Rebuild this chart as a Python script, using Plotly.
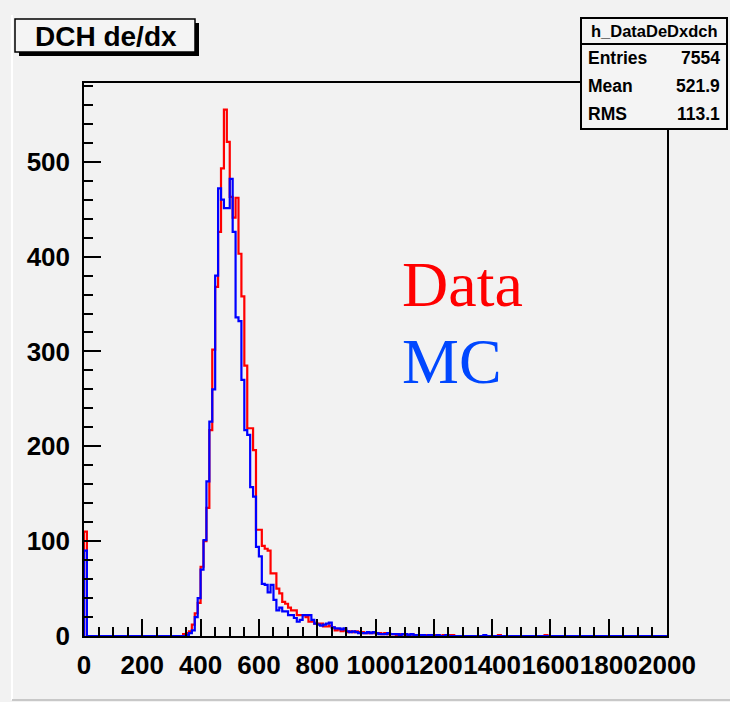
import plotly.graph_objects as go

# ---------------- data ----------------
bin_width = 10
n_bins = 200
x_min, x_max = 0, 2000

data_counts = {
    0: 110,
    34: 2, 35: 3, 36: 5, 37: 12, 38: 24, 39: 35, 40: 73, 41: 100, 42: 135,
    43: 217, 44: 302, 45: 368, 46: 426, 47: 493, 48: 555, 49: 521, 50: 463,
    51: 441, 52: 462, 53: 403, 54: 358, 55: 285, 56: 219, 57: 219, 58: 196,
    59: 112, 60: 112, 61: 95, 62: 92, 63: 90, 64: 66, 65: 66, 66: 50, 67: 45,
    68: 36, 69: 34, 70: 30, 71: 27, 72: 27, 73: 22, 74: 22, 75: 22, 76: 20,
    77: 15, 78: 15, 79: 13, 80: 13, 81: 13, 82: 10, 83: 10, 84: 11, 85: 9,
    86: 6, 87: 7, 88: 5, 89: 6, 90: 4, 91: 5, 92: 4, 93: 5, 94: 4, 95: 4,
    96: 3, 97: 3, 98: 3, 99: 4, 100: 3, 101: 3, 102: 2, 103: 3, 104: 2,
    105: 2, 106: 2, 107: 1, 108: 2, 109: 2, 110: 1, 111: 1, 112: 2, 113: 1,
    114: 1, 115: 1, 117: 1, 118: 1, 120: 1, 121: 1, 123: 1, 125: 1, 126: 1,
    142: 1, 158: 1,
}

mc_counts = {
    0: 90,
    35: 1, 36: 3, 37: 6, 38: 20, 39: 40, 40: 70, 41: 101, 42: 163, 43: 226,
    44: 260, 45: 380, 46: 472, 47: 460, 48: 451, 49: 451, 50: 482, 51: 426,
    52: 336, 53: 332, 54: 270, 55: 217, 56: 212, 57: 157, 58: 147, 59: 94,
    60: 84, 61: 55, 62: 54, 63: 46, 64: 54, 65: 38, 66: 27, 67: 30, 68: 26,
    69: 26, 70: 22, 71: 22, 72: 19, 73: 15, 74: 17, 75: 22, 76: 22, 77: 22,
    78: 17, 79: 13, 80: 12, 81: 11, 82: 12, 83: 13, 84: 14, 85: 9, 86: 8,
    87: 8, 88: 7, 89: 8, 90: 5, 91: 4, 92: 5, 93: 4, 94: 3, 95: 3, 96: 3,
    97: 4, 98: 3, 99: 4, 100: 3, 101: 2, 102: 2, 103: 2, 104: 3, 105: 2,
    106: 2, 107: 2, 108: 1, 109: 2, 110: 2, 111: 1, 112: 2, 113: 1, 114: 1,
    115: 1, 116: 1, 118: 1, 119: 1, 121: 1, 124: 1, 137: 1,
}

hist_name = "h_DataDeDxdch"
stat_labels = ["Entries", "Mean", "RMS"]
stat_values = ["7554", "521.9", "113.1"]
title_text = "DCH de/dx"

edges = [x_min + i * bin_width for i in range(n_bins + 1)]
data_vals = [data_counts.get(i, 0) for i in range(n_bins)]
mc_vals = [mc_counts.get(i, 0) for i in range(n_bins)]


def step_xy(vals):
    xs = [edges[0]] + edges[:-1] + [edges[-1]]
    ys = [0] + vals + [vals[-1]]
    return xs, ys


# ---------------- figure ----------------
W, H = 730, 702
L, R, T, B = 84, 667, 83, 636
y_top = 583


def fx(px):
    return (px - L) / (R - L)


def fy(py):
    return (B - py) / (B - T)


fig = go.Figure()
xd, yd = step_xy(data_vals)
xm, ym = step_xy(mc_vals)
fig.add_trace(go.Scatter(x=xd, y=yd, mode="lines", line_shape="hv",
                         line=dict(color="#ff0000", width=2.2), hoverinfo="skip"))
fig.add_trace(go.Scatter(x=xm, y=ym, mode="lines", line_shape="hv",
                         line=dict(color="#0000ff", width=2.2), hoverinfo="skip"))

tick_font = dict(family="Liberation Sans, Arial, sans-serif", size=26,
                 color="black", weight="bold")

fig.update_layout(
    width=W, height=H,
    margin=dict(l=L, r=W - R, t=T, b=H - B, pad=0, autoexpand=False),
    paper_bgcolor="#f2f2f2",
    plot_bgcolor="#f2f2f2",
    showlegend=False,
    xaxis=dict(range=[x_min, x_max], tickvals=list(range(0, 2001, 200)),
               tickangle=0, automargin=False,
               ticks="inside", ticklen=17, tickwidth=1.5, tickcolor="black",
               minor=dict(dtick=50, ticks="inside", ticklen=9, tickwidth=1.5,
                          tickcolor="black"),
               showgrid=False, zeroline=False, showline=True, linecolor="black",
               linewidth=1.5, mirror=True, tickfont=tick_font,
               ticklabelstandoff=5),
    yaxis=dict(range=[0, y_top], tickvals=list(range(0, 501, 100)),
               automargin=False,
               ticks="inside", ticklen=17, tickwidth=1.5, tickcolor="black",
               minor=dict(dtick=20, ticks="inside", ticklen=9, tickwidth=1.5,
                          tickcolor="black"),
               showgrid=False, zeroline=False, showline=True, linecolor="black",
               linewidth=1.5, mirror=True, tickfont=tick_font,
               ticklabelstandoff=7),
)

shapes = []
# canvas border hints
shapes.append(dict(type="line", xref="paper", yref="paper",
                   x0=fx(12), x1=fx(12), y0=fy(15), y1=fy(700),
                   line=dict(color="#ffffff", width=2)))
shapes.append(dict(type="line", xref="paper", yref="paper",
                   x0=fx(12), x1=fx(730), y0=fy(700), y1=fy(700),
                   line=dict(color="#c8c8c8", width=2)))
# title box with shadow
shapes.append(dict(type="rect", xref="paper", yref="paper",
                   x0=fx(19), x1=fx(199), y0=fy(23), y1=fy(56),
                   fillcolor="black", line=dict(width=0)))
shapes.append(dict(type="rect", xref="paper", yref="paper",
                   x0=fx(15), x1=fx(195), y0=fy(19), y1=fy(52),
                   fillcolor="#f4f4f4", line=dict(color="black", width=1.5)))
# stats box
shapes.append(dict(type="rect", xref="paper", yref="paper",
                   x0=fx(581), x1=fx(727), y0=fy(18), y1=fy(129),
                   fillcolor="#f4f4f4", line=dict(color="black", width=2)))
shapes.append(dict(type="line", xref="paper", yref="paper",
                   x0=fx(581), x1=fx(727), y0=fy(44), y1=fy(44),
                   line=dict(color="black", width=2)))
fig.update_layout(shapes=shapes)

sans = "Liberation Sans, Arial, sans-serif"
serif = "Liberation Serif, Times New Roman, serif"
ann = []
ann.append(dict(text=title_text, xref="paper", yref="paper", x=fx(106), y=fy(36),
                xanchor="center", yanchor="middle", showarrow=False,
                font=dict(family=sans, size=28, color="black", weight="bold")))
ann.append(dict(text=hist_name, xref="paper", yref="paper", x=fx(654), y=fy(31),
                xanchor="center", yanchor="middle", showarrow=False,
                font=dict(family=sans, size=16.5, color="black", weight="bold")))
row_y = [58, 86, 114]
for lab, val, yy in zip(stat_labels, stat_values, row_y):
    ann.append(dict(text=lab, xref="paper", yref="paper", x=fx(586), y=fy(yy),
                    xanchor="left", yanchor="middle", showarrow=False,
                    font=dict(family=sans, size=17.5, color="black", weight="bold")))
    ann.append(dict(text=val, xref="paper", yref="paper", x=fx(722), y=fy(yy),
                    xanchor="right", yanchor="middle", showarrow=False,
                    font=dict(family=sans, size=17.5, color="black", weight="bold")))
ann.append(dict(text="Data", xref="paper", yref="paper", x=fx(400), y=fy(284),
                xanchor="left", yanchor="middle", showarrow=False,
                font=dict(family=serif, size=64, color="#ff0000")))
ann.append(dict(text="MC", xref="paper", yref="paper", x=fx(400), y=fy(361),
                xanchor="left", yanchor="middle", showarrow=False,
                font=dict(family=serif, size=64, color="#0047ff")))
fig.update_layout(annotations=ann)

fig.write_html("out.html", config={"displayModeBar": False})

# remove the default 8px page margin so the figure sits at the window origin
with open("out.html", "r", encoding="utf-8") as f:
    html = f.read()
html = html.replace("<head>", "<head><style>html,body{margin:0;padding:0;}</style>", 1)
with open("out.html", "w", encoding="utf-8") as f:
    f.write(html)
